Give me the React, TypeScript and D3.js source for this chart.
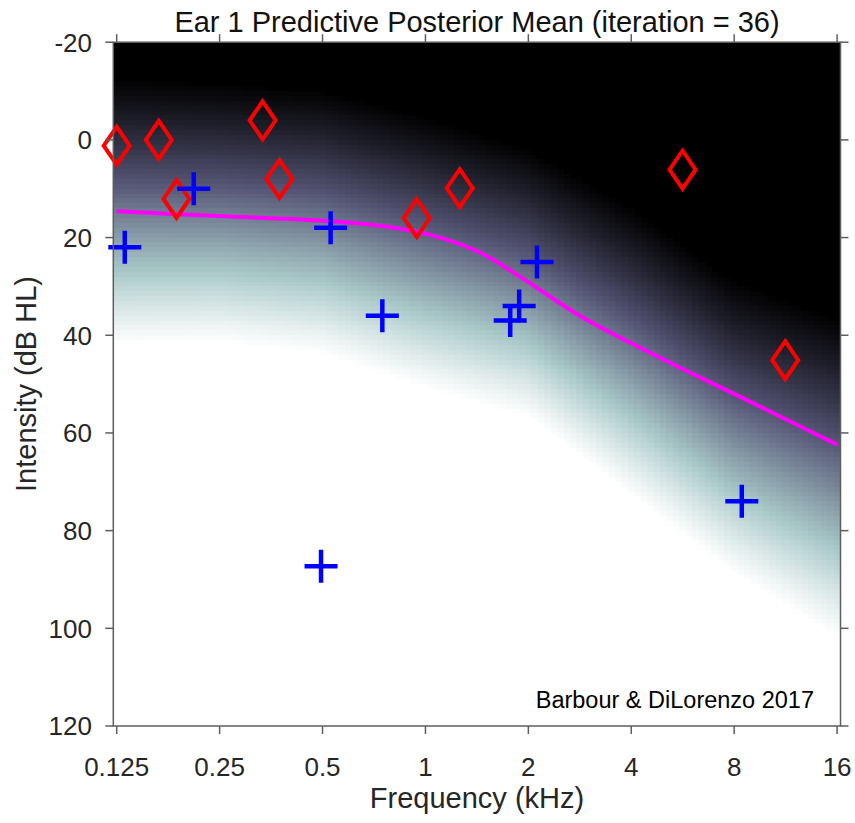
import React from "react";
import * as d3 from "d3";

// ---------- data ----------
const FREQ_TICKS = [0.125, 0.25, 0.5, 1, 2, 4, 8, 16];
const FREQ_TICK_LABELS = ["0.125", "0.25", "0.5", "1", "2", "4", "8", "16"];
const DB_TICKS = [-20, 0, 20, 40, 60, 80, 100, 120];
const DB_TICK_LABELS = ["-20", "0", "20", "40", "60", "80", "100", "120"];

// red diamonds (not heard)
const MISS_FREQ = [0.125, 0.166, 0.334, 0.187, 0.374, 0.943, 1.26, 5.65, 11.28];
const MISS_DB = [1.2, 0, -4, 12.1, 8, 16, 9.9, 6.1, 45.1];

// blue crosses (heard)
const HIT_FREQ = [0.132, 0.21, 0.528, 0.748, 0.495, 1.77, 1.88, 2.12, 8.42];
const HIT_DB = [22, 10, 18, 36, 87.3, 37, 34, 25, 74];

// magenta threshold curve
const LINE_FREQ = [0.125, 0.25, 0.52, 0.74, 1.04, 1.44, 1.89, 2.83, 3.97, 5.58, 8, 11.4, 16];
const LINE_DB = [14.6, 15.6, 16.6, 17.6, 19.5, 23, 28, 36, 41.5, 46.7, 52, 57.3, 62.4];

// posterior mean field: level where it leaves black (p=0) and reaches white (p=1)
const FIELD_FREQ = [0.125, 0.25, 0.5, 1, 2, 4, 8, 16];
const FIELD_LO = [-13, -12, -10.5, -5, 1.5, 13.5, 28.5, 36];
const FIELD_HI = [42, 41.5, 44, 51, 57, 73, 89, 102];

const TITLE = "Ear 1 Predictive Posterior Mean (iteration = 36)";
const X_LABEL = "Frequency (kHz)";
const Y_LABEL = "Intensity (dB HL)";
const NOTE = "Barbour & DiLorenzo 2017";

// ---------- layout ----------
const W = 855;
const H = 823;
const LEFT = 113.3;
const RIGHT = 840.5;
const TOP = 42.2;
const BOTTOM = 726;
const FONT = "'Liberation Sans', Arial, Helvetica, sans-serif";
const AXIS = "#5e5e5e";

const pad = 0.033;
const x = d3
  .scaleLog()
  .base(2)
  .domain([0.125 * Math.pow(2, -pad), 16 * Math.pow(2, pad)])
  .range([LEFT, RIGHT]);
const y = d3.scaleLinear().domain([-20, 120]).range([TOP, BOTTOM]);

function bone(t: number): string {
  t = Math.max(0, Math.min(1, t));
  const hr = Math.min(1, t / 0.375);
  const hg = Math.max(0, Math.min(1, (t - 0.375) / 0.375));
  const hb = Math.max(0, Math.min(1, (t - 0.75) / 0.25));
  const r = (7 * t + hb) / 8;
  const g = (7 * t + hg) / 8;
  const b = (7 * t + hr) / 8;
  return d3.rgb(r * 255, g * 255, b * 255).formatHex();
}

const loAt = d3.scaleLinear().domain(FIELD_FREQ.map(Math.log2)).range(FIELD_LO).clamp(true);
const hiAt = d3.scaleLinear().domain(FIELD_FREQ.map(Math.log2)).range(FIELD_HI).clamp(true);

function field(db: number, lo: number, hi: number): number {
  const t = Math.max(0, Math.min(1, (db - lo) / (hi - lo)));
  const sm = t * t * (3 - 2 * t);
  return 0.7 * t + 0.3 * sm;
}

function Heatmap() {
  const [l0, l1] = x.domain().map(Math.log2);
  const step = 1 / 16;
  const cells: React.ReactElement[] = [];
  let k = 0;
  for (let lf = l0; lf < l1 - 1e-9; lf += step) {
    const lfe = Math.min(l1, lf + step);
    const xa = x(Math.pow(2, lf));
    const xb = x(Math.pow(2, lfe));
    const lc = (lf + lfe) / 2;
    const lo = loAt(lc);
    const hi = hiAt(lc);
    let whiteFrom: number | null = null;
    for (let db = -20; db < 120; db += 1) {
      const p = field(db + 0.5, lo, hi);
      if (p < 0.01) continue;
      if (p > 0.995) {
        whiteFrom = db;
        break;
      }
      cells.push(
        <rect
          key={k++}
          x={xa}
          y={y(db)}
          width={xb - xa + 0.6}
          height={y(db + 1) - y(db) + 0.6}
          fill={bone(p)}
        />
      );
    }
    if (whiteFrom !== null) {
      cells.push(
        <rect key={k++} x={xa} y={y(whiteFrom)} width={xb - xa + 0.6} height={BOTTOM - y(whiteFrom)} fill="#ffffff" />
      );
    }
  }
  return (
    <g shapeRendering="crispEdges">
      <rect x={LEFT} y={TOP} width={RIGHT - LEFT} height={BOTTOM - TOP} fill="#000" />
      {cells}
    </g>
  );
}

export default function App() {
  const linePath = d3
    .line<number>()
    .x((_, i) => x(LINE_FREQ[i]))
    .y((d) => y(d))
    .curve(d3.curveCatmullRom.alpha(0.5))(LINE_DB);

  const dW = 13;
  const dH = 19;
  const cL = 16.5;

  return (
    <svg
      width={W}
      height={H}
      viewBox={`0 0 ${W} ${H}`}
      style={{ position: "absolute", left: 0, top: 0, background: "#fff" }}
      fontFamily={FONT}
    >
      <defs>
        <clipPath id="plotClip">
          <rect x={LEFT} y={TOP} width={RIGHT - LEFT} height={BOTTOM - TOP} />
        </clipPath>
      </defs>
      <g clipPath="url(#plotClip)">
        <Heatmap />
      </g>
      <path d={linePath || ""} fill="none" stroke="#ff00ff" strokeWidth={4} />
      {MISS_FREQ.map((f, i) => {
        const cx = x(f);
        const cy = y(MISS_DB[i]);
        return (
          <path
            key={"m" + i}
            d={`M${cx},${cy - dH}L${cx + dW},${cy}L${cx},${cy + dH}L${cx - dW},${cy}Z`}
            fill="none"
            stroke="#ff0000"
            strokeWidth={4}
            strokeLinejoin="miter"
          />
        );
      })}
      {HIT_FREQ.map((f, i) => {
        const cx = x(f);
        const cy = y(HIT_DB[i]);
        return (
          <path
            key={"h" + i}
            d={`M${cx - cL},${cy}H${cx + cL}M${cx},${cy - cL}V${cy + cL}`}
            fill="none"
            stroke="#0000ff"
            strokeWidth={4.5}
          />
        );
      })}
      {/* box */}
      <rect x={LEFT} y={TOP} width={RIGHT - LEFT} height={BOTTOM - TOP} fill="none" stroke={AXIS} strokeWidth={1.5} />
      {/* x ticks */}
      {FREQ_TICKS.map((f, i) => (
        <g key={"xt" + i}>
          <line x1={x(f)} x2={x(f)} y1={BOTTOM} y2={BOTTOM + 8} stroke={AXIS} strokeWidth={1.5} />
          <line x1={x(f)} x2={x(f)} y1={TOP} y2={TOP - 8} stroke={AXIS} strokeWidth={1.5} />
          <text x={x(f)} y={776} textAnchor="middle" fontSize={26} fill="#262626">
            {FREQ_TICK_LABELS[i]}
          </text>
        </g>
      ))}
      {/* y ticks */}
      {DB_TICKS.map((d, i) => (
        <g key={"yt" + i}>
          <line x1={LEFT} x2={LEFT - 8} y1={y(d)} y2={y(d)} stroke={AXIS} strokeWidth={1.5} />
          <line x1={RIGHT} x2={RIGHT + 8} y1={y(d)} y2={y(d)} stroke={AXIS} strokeWidth={1.5} />
          <text x={92} y={y(d)} dy="0.36em" textAnchor="end" fontSize={26} fill="#262626">
            {DB_TICK_LABELS[i]}
          </text>
        </g>
      ))}
      <text x={477} y={31.5} textAnchor="middle" fontSize={29} fill="#111">
        {TITLE}
      </text>
      <text x={477} y={808} textAnchor="middle" fontSize={29} fill="#262626">
        {X_LABEL}
      </text>
      <text
        transform={`translate(35.5,384) rotate(-90)`}
        textAnchor="middle"
        fontSize={29}
        fill="#262626"
      >
        {Y_LABEL}
      </text>
      <text x={814} y={707.5} textAnchor="end" fontSize={23.5} fill="#000">
        {NOTE}
      </text>
    </svg>
  );
}
